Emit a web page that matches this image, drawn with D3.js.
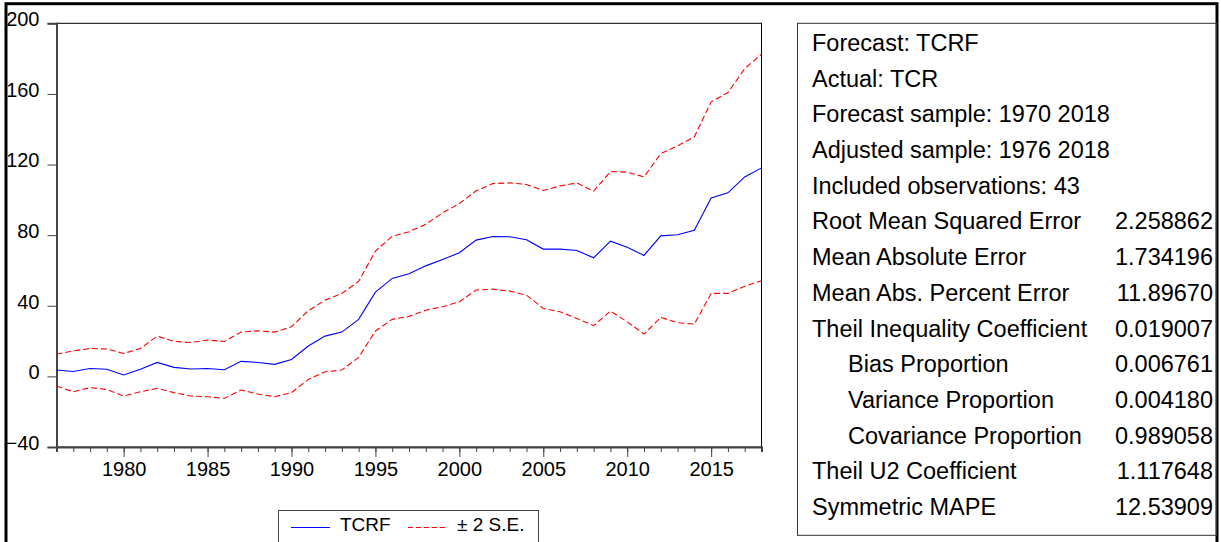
<!DOCTYPE html>
<html>
<head>
<meta charset="utf-8">
<script src="https://cdn.jsdelivr.net/npm/d3@7"></script>
<style>
  body { margin: 0; background: #fff; }
  svg { display: block; font-family: "Liberation Sans", Arial, sans-serif; }
</style>
</head>
<body>
<div id="chart"></div>
<script>
// data
let years = d3.range(1976, 2019);
let tcrf = [3.6, 2.8, 4.5, 4.0, 0.8, 4.0, 7.9, 5.1, 4.2, 4.5, 3.8, 8.5, 7.9, 6.8, 9.6,
  17.2, 22.8, 25.1, 32.3, 47.7, 55.5, 58.1, 62.6, 66.2, 70.0, 77.2, 79.2, 79.1, 77.4,
  72.1, 72.1, 71.3, 67.2, 76.6, 73.2, 68.5, 79.6, 80.2, 82.8, 101.1, 104.0, 113.0, 118.1];
let upperSE = [12.5, 14.5, 15.8, 15.5, 13.0, 15.8, 22.8, 19.8, 19.2, 20.6, 19.8, 25.1, 25.8, 25.1, 28.1,
  37.2, 43.2, 47.0, 53.8, 71.0, 79.4, 81.9, 86.2, 92.6, 97.9, 105.1, 109.2, 109.6, 108.7,
  105.3, 107.9, 109.6, 104.9, 116.0, 115.7, 113.0, 126.2, 130.6, 135.7, 155.5, 160.8, 174.3, 182.5];
let lowerSE = [-5.5, -8.7, -6.4, -7.4, -11.1, -8.7, -6.8, -9.2, -11.1, -11.5, -12.5, -7.7, -10.0, -11.5, -9.2,
  -1.7, 2.6, 3.6, 10.8, 25.7, 32.3, 34.0, 37.5, 39.4, 42.3, 48.9, 49.4, 48.3, 46.0,
  38.5, 36.6, 32.8, 28.7, 37.0, 30.9, 24.0, 33.4, 30.4, 29.6, 47.0, 47.0, 51.1, 54.2];
let yTicks = [-40, 0, 40, 80, 120, 160, 200];
let xMajorTicks = [1980, 1985, 1990, 1995, 2000, 2005, 2010, 2015];
let legendLabels = ['TCRF', '\u00b1 2 S.E.'];

let statLabels = ['Forecast: TCRF', 'Actual: TCR', 'Forecast sample: 1970 2018',
  'Adjusted sample: 1976 2018', 'Included observations: 43', 'Root Mean Squared Error',
  'Mean Absolute Error', 'Mean Abs. Percent Error', 'Theil Inequality Coefficient',
  'Bias Proportion', 'Variance Proportion', 'Covariance Proportion',
  'Theil U2 Coefficient', 'Symmetric MAPE'];
let statValues = ['', '', '', '', '', '2.258862', '1.734196', '11.89670', '0.019007',
  '0.006761', '0.004180', '0.989058', '1.117648', '12.53909'];
let subRows = ['Bias Proportion', 'Variance Proportion', 'Covariance Proportion'];

// Set up SVG
let svgWidth = 1221;
let svgHeight = 542;

let plot = { left: 56.5, right: 761.5, top: 23.3, bottom: 447 };

let svg = d3.select('#chart')
  .append('svg')
  .attr('width', svgWidth)
  .attr('height', svgHeight);

// scales
let xScale = d3.scaleLinear().domain([1976, 2018]).range([plot.left, plot.right]);
let yScale = d3.scaleLinear().domain([-40, 200]).range([plot.bottom, plot.top]);

// outer frame
svg.append('rect')
  .attr('x', 6).attr('y', 3.7)
  .attr('width', 1211).attr('height', 600)
  .attr('fill', 'none')
  .attr('stroke', '#000')
  .attr('stroke-width', 3);

// plot box
svg.append('rect')
  .attr('x', plot.left).attr('y', plot.top)
  .attr('width', plot.right - plot.left)
  .attr('height', plot.bottom - plot.top)
  .attr('fill', 'none')
  .attr('stroke', '#000')
  .attr('stroke-width', 1);

// Y axis
let yAxis = svg.append('g')
  .attr('transform', `translate(${plot.left}, 0)`)
  .call(d3.axisLeft(yScale).tickValues(yTicks).tickSize(9).tickPadding(8).tickFormat(d3.format('d')));
yAxis.select('.domain').attr('stroke', '#444').attr('stroke-width', 2);
yAxis.selectAll('.tick line').attr('stroke', '#444');
yAxis.selectAll('text')
  .attr('font-size', '20px')
  .attr('font-family', '"Liberation Sans", Arial, sans-serif')
  .attr('fill', '#000')
  .attr('transform', 'translate(0,-4)');

// X axis - minor ticks
let xMinor = svg.append('g')
  .attr('transform', `translate(0, ${plot.bottom})`)
  .call(d3.axisBottom(xScale).tickValues(years).tickSize(5).tickFormat(''));
xMinor.select('.domain').attr('stroke', '#444').attr('stroke-width', 2);
xMinor.selectAll('.tick line').attr('stroke', '#444');

// X axis - major ticks
let xMajor = svg.append('g')
  .attr('transform', `translate(0, ${plot.bottom})`)
  .call(d3.axisBottom(xScale).tickValues(xMajorTicks).tickSize(10).tickPadding(5).tickFormat(d3.format('d')));
xMajor.select('.domain').remove();
xMajor.selectAll('.tick line').attr('stroke', '#444');
xMajor.selectAll('text')
  .attr('font-size', '20px')
  .attr('font-family', '"Liberation Sans", Arial, sans-serif')
  .attr('fill', '#000');

// lines
let line = d3.line()
  .x((d, i) => xScale(years[i]))
  .y(d => yScale(d));

svg.append('path')
  .datum(upperSE)
  .attr('d', line)
  .attr('fill', 'none')
  .attr('stroke', '#ff0000')
  .attr('stroke-width', 1.1)
  .attr('stroke-dasharray', '6,3');

svg.append('path')
  .datum(lowerSE)
  .attr('d', line)
  .attr('fill', 'none')
  .attr('stroke', '#ff0000')
  .attr('stroke-width', 1.1)
  .attr('stroke-dasharray', '6,3');

svg.append('path')
  .datum(tcrf)
  .attr('d', line)
  .attr('fill', 'none')
  .attr('stroke', '#0000ff')
  .attr('stroke-width', 1.1);

// legend
let legend = svg.append('g');
legend.append('rect')
  .attr('x', 278.5).attr('y', 510.5)
  .attr('width', 260).attr('height', 60)
  .attr('fill', '#fff')
  .attr('stroke', '#444')
  .attr('stroke-width', 1);
legend.append('line')
  .attr('x1', 291).attr('x2', 330)
  .attr('y1', 527.5).attr('y2', 527.5)
  .attr('stroke', '#0000ff').attr('stroke-width', 1.1);
legend.append('text')
  .attr('x', 340).attr('y', 531)
  .attr('font-size', '19px')
  .text(legendLabels[0]);
legend.append('line')
  .attr('x1', 408).attr('x2', 447)
  .attr('y1', 527.5).attr('y2', 527.5)
  .attr('stroke', '#ff0000').attr('stroke-width', 1.1)
  .attr('stroke-dasharray', '5,3');
legend.append('text')
  .attr('x', 457).attr('y', 531)
  .attr('font-size', '19px')
  .text(legendLabels[1]);

// stats box
svg.append('rect')
  .attr('x', 797.5).attr('y', 23.3)
  .attr('width', 419).attr('height', 512)
  .attr('fill', 'none')
  .attr('stroke', '#333')
  .attr('stroke-width', 1);

let rowY = d3.scaleLinear().domain([0, 13]).range([50.8, 515.2]);

svg.selectAll('.statLabel')
  .data(statLabels)
  .enter()
  .append('text')
  .classed('statLabel', true)
  .attr('x', d => subRows.includes(d) ? 848 : 812)
  .attr('y', (d, i) => rowY(i))
  .attr('font-size', '23.5px')
  .attr('fill', '#000')
  .text(d => d);

svg.selectAll('.statValue')
  .data(statValues)
  .enter()
  .append('text')
  .classed('statValue', true)
  .attr('x', 1213)
  .attr('y', (d, i) => rowY(i))
  .attr('text-anchor', 'end')
  .attr('font-size', '23.5px')
  .attr('fill', '#000')
  .text(d => d);
</script>
</body>
</html>
